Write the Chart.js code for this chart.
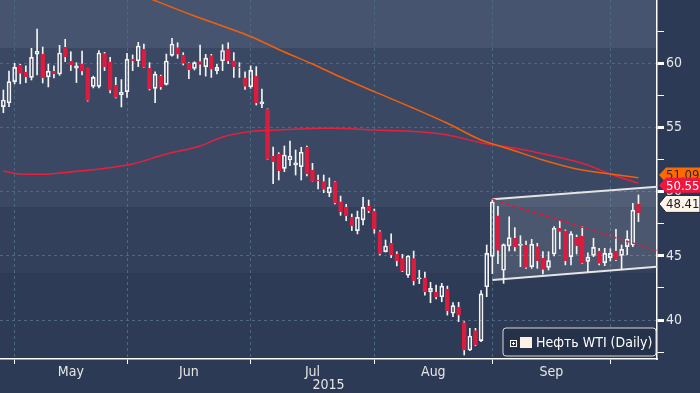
<!DOCTYPE html>
<html>
<head>
<meta charset="utf-8">
<script src="https://cdn.jsdelivr.net/npm/chart.js@4/dist/chart.umd.min.js"></script>
<style>
html,body{margin:0;padding:0;background:#2c3a55;}
#wrap{width:700px;height:393px;position:relative;}
</style>
</head>
<body>
<div id="wrap"><canvas id="chart"></canvas></div>
<script>
// daily WTI candles, x = trading-day index (0 = last days of April 2015)
const openP  = [56.62,56.93,58.57,59.84,59.29,58.9,60.72,60.72,58.94,59.38,59.17,61.25,60.18,59.63,59.95,59.6,58.2,58.2,60.75,60.12,
  58.28,57.56,57.8,60.3,60.2,61.1,59.6,58.05,59.0,58.36,60.62,61.22,60.64,60.0,59.6,60.13,59.74,60.6,59.43,60.2,
  61.12,60.2,59.7,58.86,58.16,59.01,56.83,56.41,52.78,52.93,51.82,52.47,52.08,51.95,53.46,51.69,50.91,50.78,49.92,50.76,
  49.22,48.78,48.0,46.97,47.8,48.88,48.5,46.89,45.33,45.98,45.15,44.8,43.49,44.8,43.2,43.3,42.2,42.19,41.82,42.42,
  40.53,41.0,39.8,37.67,39.18,38.4,42.6,44.96,48.13,43.88,45.77,46.37,45.82,45.85,44.16,45.72,44.81,44.11,45.15,47.15,
  46.96,44.94,46.45,46.55,44.57,45.04,45.38,44.47,44.86,45.38,45.04,45.72,45.85,49.04];
const highP  = [57.92,59.4,60.0,59.92,59.8,61.17,62.67,61.27,59.94,59.8,61.4,61.87,60.9,60.05,60.96,59.62,59.0,61.0,60.85,60.46,
  58.9,58.73,60.78,60.65,61.63,61.5,60.05,59.34,59.08,60.72,61.94,61.6,60.83,60.05,60.12,61.42,60.7,60.7,59.92,61.45,
  61.6,60.83,60.05,59.34,59.8,59.74,58.0,56.45,53.48,53.04,53.56,53.95,53.25,53.46,53.56,52.21,51.3,51.3,51.07,50.78,
  49.66,49.02,48.26,48.49,49.56,49.35,48.65,46.97,46.24,46.71,45.33,45.12,45.02,45.38,43.88,43.73,42.94,42.73,42.86,42.65,
  41.36,41.39,39.88,39.36,39.36,42.3,45.85,49.38,48.86,45.93,48.05,47.2,46.57,46.16,46.29,45.98,45.33,45.33,47.28,47.75,
  47.02,46.89,46.63,47.28,45.23,46.37,45.59,45.59,45.56,47.07,45.85,46.96,49.1,49.75];
const lowP   = [56.15,56.62,58.4,58.4,58.49,58.7,59.09,58.47,58.16,58.86,59.06,60.13,59.43,58.5,59.1,57.05,58.08,58.08,59.43,57.7,
  57.3,56.6,57.35,59.43,59.74,59.66,57.92,56.93,57.97,58.3,60.56,60.39,59.87,58.8,59.48,59.09,59.0,58.9,59.17,59.43,
  59.97,58.9,58.9,57.97,58.05,56.75,56.54,52.5,50.63,50.91,51.56,52.03,51.3,50.91,51.23,50.83,50.21,49.92,49.61,49.05,
  48.16,47.74,46.97,46.71,47.41,48.37,46.76,45.07,45.3,44.87,44.22,43.77,43.33,42.73,42.84,41.94,41.35,41.64,41.43,40.39,
  40.27,39.88,37.28,37.62,38.0,38.32,41.82,43.61,44.39,42.86,45.38,45.38,44.16,44.03,44.03,44.03,43.59,43.9,45.0,45.54,
  44.3,44.3,45.15,44.42,43.77,44.94,44.29,44.24,44.6,44.63,43.95,45.09,45.72,47.67];
const closeP = [57.14,58.57,59.68,59.22,58.95,60.46,60.96,58.86,59.38,59.17,60.8,60.52,59.87,59.8,59.43,57.1,58.9,60.8,59.74,57.9,
  57.35,57.74,60.3,60.2,61.35,59.68,58.0,59.16,58.18,60.18,61.5,60.72,60.0,59.5,60.05,59.92,60.4,59.55,59.68,61.0,
  60.21,59.74,59.65,58.2,59.45,56.93,56.99,52.52,52.34,51.64,52.86,52.78,52.24,53.07,51.38,50.86,50.83,50.18,50.34,49.15,
  48.44,48.13,47.33,48.0,48.78,48.52,47.1,45.15,45.77,45.07,44.63,43.85,44.99,43.07,43.3,42.2,42.47,41.82,42.65,40.73,
  41.13,40.4,37.67,38.76,38.04,42.04,45.2,49.2,45.43,45.88,46.42,45.69,45.93,44.11,45.9,44.63,43.95,44.63,47.15,46.9,
  44.63,46.71,45.8,44.47,44.91,45.66,44.42,45.2,45.2,44.68,45.51,46.29,48.57,48.37];

// moving averages read at sample days
const maRedX  = [0,3,7,10,17,23,29,35,39,44,49,58,66,74,79,85,91,97,103,108,113];
const maRedY  = [51.61,51.38,51.36,51.46,51.77,52.16,52.94,53.56,54.26,54.69,54.81,54.94,54.81,54.67,54.42,53.82,53.38,52.86,52.21,51.38,50.65];
const maOrX   = [24,34,40,44,50,55,60,66,73,79,85,90,96,102,108,113];
const maOrY   = [65.4,63.68,62.75,62.09,60.88,59.95,58.93,57.79,56.5,55.33,54.03,53.33,52.47,51.77,51.38,51.09];

// channel drawn on the chart
const chanX      = [87,116.3];
const chanTop    = [49.41,50.39];
const chanBottom = [43.12,44.16];
const trendY     = [49.41,45.41];

const monthStarts = [2,22,44,66,87,108];
const monthLabels = ['May','Jun','Jul','Aug','Sep'];
const yearLabel = '2015';
const yTickVals = [37.5,40,42.5,45,47.5,50,52.5,55,57.5,60,62.5];

const tagVals  = [51.3,50.5,49.05];
const tagTexts = ['51.09','50.55','48.41'];
const legendText = 'Нефть WTI (Daily)';

const RED='#dc1c3e', WHITE='#f4f4f4', GRID='#4e6884', TXT='#e6e6e6';
const FONT="'Liberation Sans Narrow','DejaVu Sans Condensed',sans-serif";

const idx = openP.map((_,i)=>i);
const up = i => closeP[i] >= openP[i];
const mids = monthLabels.map((_,k)=>(monthStarts[k]+monthStarts[k+1])/2);
const xTickVals = [...monthStarts, ...mids].sort((a,b)=>a-b);
const labelAt = new Map(mids.map((v,k)=>[v,monthLabels[k]]));
const isBoundary = v => monthStarts.includes(v);

const bands = [[70,61.19,'#465470'],[61.19,48.8,'#3a4863'],[48.8,43.66,'#33405b'],[43.66,30,'#2e3b57']];

const deco = {
  id:'deco',
  beforeDraw(c){
    const {ctx,chartArea:a,scales:{y}}=c;
    ctx.save();
    ctx.fillStyle='#2c3a55'; ctx.fillRect(0,0,c.width,c.height);
    for(const [t,b,col] of bands){
      const y1=Math.max(a.top,y.getPixelForValue(t)), y2=Math.min(a.bottom,y.getPixelForValue(b));
      if(y2>y1){ctx.fillStyle=col; ctx.fillRect(a.left,y1,a.right-a.left,y2-y1);}
    }
    ctx.restore();
  },
  afterDraw(c){
    const {ctx,chartArea:a,scales:{y}}=c;
    ctx.save();
    // price tags on the right
    const tagCols=[['#ff6a00','#2a2a2a'],[ '#f0173f','#ffffff'],['#fdf5ea','#1a1a1a']];
    tagVals.forEach((v,k)=>{
      const yc=y.getPixelForValue(v), h=k===2?17:15, x0=a.right+2;
      ctx.beginPath();
      ctx.moveTo(x0,yc); ctx.lineTo(x0+7,yc-h/2); ctx.lineTo(700,yc-h/2); ctx.lineTo(700,yc+h/2); ctx.lineTo(x0+7,yc+h/2); ctx.closePath();
      ctx.fillStyle=tagCols[k][0]; ctx.fill();
      if(k===2){ctx.strokeStyle='#1a2233'; ctx.lineWidth=1; ctx.stroke();}
      ctx.fillStyle=tagCols[k][1]; ctx.font='13px '+FONT; ctx.textBaseline='middle'; ctx.textAlign='left';
      ctx.fillText(tagTexts[k],x0+7,yc+1);
    });
    // legend box
    const lx=503, ly=328, lw=153, lh=28;
    ctx.beginPath(); ctx.roundRect(lx,ly,lw,lh,3);
    ctx.fillStyle='#253149'; ctx.fill(); ctx.strokeStyle='#d8d8d8'; ctx.lineWidth=1; ctx.stroke();
    ctx.strokeStyle='#ffffff'; ctx.lineWidth=1;
    ctx.strokeRect(510.5,340.5,6,6);
    ctx.beginPath(); ctx.moveTo(512,343.5); ctx.lineTo(515,343.5); ctx.moveTo(513.5,342); ctx.lineTo(513.5,345); ctx.stroke();
    ctx.fillStyle='#fdf0e4'; ctx.fillRect(520,337,12,11);
    ctx.fillStyle='#ffffff'; ctx.font='14px '+FONT; ctx.textBaseline='middle'; ctx.textAlign='left';
    ctx.fillText(legendText,536,343);
    ctx.restore();
  }
};

const lineDs = (xs,ys,color,extra={}) => Object.assign({
  type:'line', data:xs.map((x,k)=>({x,y:ys[k]})), borderColor:color, borderWidth:1.5,
  pointRadius:0, cubicInterpolationMode:'monotone', fill:false, order:0
}, extra);

new Chart(document.getElementById('chart'),{
  type:'bar',
  data:{datasets:[
    lineDs(maOrX,maOrY,'#f2600c'),
    lineDs(maRedX,maRedY,'#e8203f'),
    lineDs(chanX,trendY,'#e0193c',{borderDash:[4,3],borderWidth:1.5,cubicInterpolationMode:'default',tension:0}),
    {type:'bar', data:idx.map(i=>({x:i,y:[openP[i],closeP[i]]})), barThickness:4, grouped:false, order:1,
     backgroundColor:c=>up(c.dataIndex)?'rgba(0,0,0,0)':RED,
     borderColor:c=>up(c.dataIndex)?WHITE:RED, borderWidth:1, borderSkipped:false},
    {type:'bar', data:idx.map(i=>({x:i,y:[Math.max(openP[i],closeP[i]),highP[i]]})), barThickness:1, grouped:false, order:2, backgroundColor:WHITE},
    {type:'bar', data:idx.map(i=>({x:i,y:[lowP[i],Math.min(openP[i],closeP[i])]})), barThickness:1, grouped:false, order:2, backgroundColor:WHITE},
    lineDs(chanX,chanTop,'#e4e4e4',{borderWidth:2,tension:0,cubicInterpolationMode:'default',fill:'+1',backgroundColor:'rgba(255,255,255,0.12)',order:10}),
    lineDs(chanX,chanBottom,'#e4e4e4',{borderWidth:2,tension:0,cubicInterpolationMode:'default',order:10})
  ]},
  options:{
    responsive:true, maintainAspectRatio:false, animation:false,
    layout:{padding:0},
    plugins:{legend:{display:false},tooltip:{enabled:false}},
    scales:{
      x:{type:'linear',min:-0.6,max:116.3,offset:false,
        afterBuildTicks:s=>{s.ticks=xTickVals.map(v=>({value:v}));},
        afterFit:s=>{s.height=34;s.paddingLeft=0;s.paddingRight=0;},
        ticks:{autoSkip:false,maxRotation:0,color:TXT,font:{family:FONT,size:14},padding:0,
          callback:v=>labelAt.get(v)||''},
        grid:{offset:false,color:c=>isBoundary(c.tick&&c.tick.value)?GRID:'rgba(0,0,0,0)',
          tickColor:c=>isBoundary(c.tick&&c.tick.value)?'#ffffff':'rgba(0,0,0,0)',tickLength:5,tickBorderDash:[]},
        border:{color:'#ffffff',width:1.5,dash:[3,3]},
        title:{display:true,text:yearLabel,color:TXT,font:{family:FONT,size:14,lineHeight:1.05},padding:{top:0,bottom:0}}
      },
      y:{type:'linear',position:'right',min:36.97,max:64.93,
        afterBuildTicks:s=>{s.ticks=yTickVals.map(v=>({value:v}));},
        afterFit:s=>{s.width=43;s.paddingTop=0;s.paddingBottom=0;},
        ticks:{color:TXT,font:{family:FONT,size:14},padding:2,callback:v=>v%5===0?String(v):''},
        grid:{color:c=>c.tick&&c.tick.value%5===0?GRID:'rgba(0,0,0,0)',
          tickColor:'#ffffff',tickLength:7,tickWidth:c=>c.tick&&c.tick.value%5===0?3:1,tickBorderDash:[]},
        border:{color:'#ffffff',width:1.5,dash:[3,3]}
      }
    }
  },
  plugins:[deco]
});
</script>
</body>
</html>
